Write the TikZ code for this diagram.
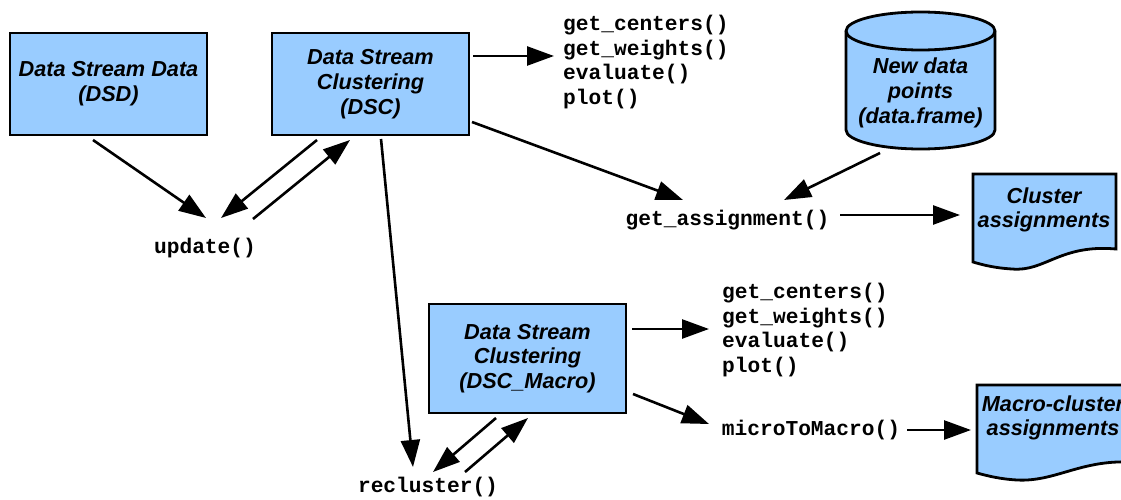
\documentclass[tikz,border=0pt]{standalone}
\usepackage{fontspec}
\setmainfont{Liberation Sans}
\setmonofont{Liberation Mono}
\usetikzlibrary{arrows.meta,calc}
\definecolor{boxblue}{HTML}{99CCFF}
\newcommand\dboxfont{\bfseries\itshape\fontsize{21.7}{24.7}\selectfont}
\newcommand\dcodefont{\ttfamily\bfseries\fontsize{21.2}{24.7}\selectfont}
\begin{document}
\begin{tikzpicture}[x=1pt,y=-1pt,
  box/.style={draw=black, fill=boxblue, line width=2.8pt, minimum width=197pt, inner sep=0pt, align=center, font=\dboxfont},
  lbl/.style={inner sep=0pt, align=center, font=\dboxfont},
  code/.style={inner sep=0pt, align=left, font=\dcodefont},
  arr/.style={line width=2.6pt, -{Triangle[length=27pt,width=19pt]}},
  shp/.style={draw=black, fill=boxblue, line width=2.8pt, line join=miter}]
\useasboundingbox (0,0) rectangle (1121,500);
\clip (0,0) rectangle (1121,500);

% boxes
\node[box, minimum height=102pt] (dsd) at (108.5,84) {Data Stream Data\\(DSD)};
\node[box, minimum height=102pt] (dsc) at (370.5,84) {Data Stream\\Clustering\\(DSC)};
\node[box, minimum height=109pt] (macro) at (527.5,358.5) {Data Stream\\Clustering\\(DSC\_Macro)};

% cylinder
\draw[shp] (846,31) -- (846,130) arc[start angle=180,end angle=360,x radius=74.5pt,y radius=19pt]
  -- (995,31) arc[start angle=0,end angle=180,x radius=74.5pt,y radius=19pt] -- cycle;
\draw[line width=2.8pt] (846,31) arc[start angle=180,end angle=360,x radius=74.5pt,y radius=19pt];
\node[lbl] (cyl) at (920.5,93) {New data\\points\\(data.frame)};

% documents
\draw[shp] (973,174) -- (1116,174) -- (1116,249) .. controls (1060,244) and (1045,272) .. (1012,269)
  .. controls (995,268) and (983,265) .. (973,262) -- cycle;
\node[lbl] (clus) at (1044,210) {Cluster\\assignments};
\draw[shp] (977,385) -- (1130,385) -- (1130,462) .. controls (1080,460) and (1055,482) .. (1017,480)
  .. controls (1000,479) and (988,476) .. (977,473) -- cycle;
\node[lbl] (mac) at (1053,418) {Macro-cluster\\assignments};

% code labels
\node[code, anchor=west] (meth1) at (563,62) {get\_centers()\\get\_weights()\\evaluate()\\plot()};
\node[code, anchor=west] (meth2) at (722,330) {get\_centers()\\get\_weights()\\evaluate()\\plot()};
\node[code] (upd) at (205,248) {update()};
\node[code] (getass) at (727.5,220) {get\_assignment()};
\node[code] (recl) at (428,487) {recluster()};
\node[code] (m2m) at (811,430) {microToMacro()};

% connectors
\draw[arr] ($(dsd)+(-15.5,56)$) -- ($(upd)+(1,-30)$);
\draw[arr] ($(dsc)+(-53.5,56)$) -- ($(upd)+(16,-30)$);
\draw[arr] ($(upd)+(48,-29)$) -- ($(dsc)+(-20.5,56)$);
\draw[arr] ($(dsc)+(102.5,-28)$) -- ($(meth1.west)+(-9,-6)$);
\draw[arr] ($(dsc)+(101.5,38)$) -- ($(getass)+(-44.5,-20)$);
\draw[arr] ($(cyl)+(-40.5,60)$) -- ($(getass)+(56.5,-20)$);
\draw[arr] ($(getass)+(112.5,-5)$) -- ($(clus)+(-84,5)$);
\draw[arr] ($(dsc)+(10.5,55)$) -- ($(recl)+(-15,-20)$);
\draw[arr] ($(macro)+(-31.5,59.5)$) -- ($(recl)+(5,-15)$);
\draw[arr] ($(recl)+(37,-15)$) -- ($(macro)+(0.5,59.5)$);
\draw[arr] ($(macro)+(104.5,-29.5)$) -- ($(meth2.west)+(-13,-1)$);
\draw[arr] ($(macro)+(105.5,35.5)$) -- ($(m2m)+(-102,-6)$);
\draw[arr] ($(m2m)+(96,0)$) -- ($(mac)+(-82,12)$);
\end{tikzpicture}
\end{document}
